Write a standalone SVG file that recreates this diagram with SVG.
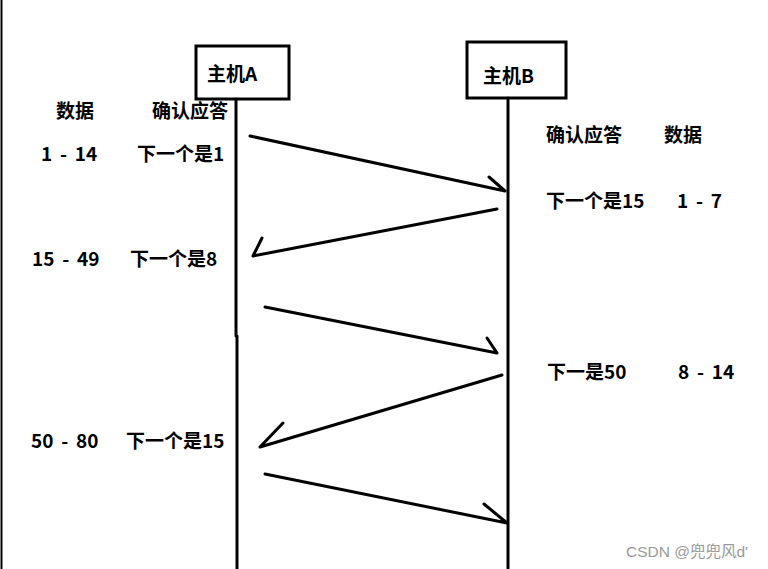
<svg xmlns="http://www.w3.org/2000/svg" width="768" height="569" viewBox="0 0 768 569">
<style>
.t{font-family:"Noto Sans CJK SC","Liberation Sans",sans-serif;font-weight:bold;font-size:19px;fill:#000;word-spacing:3.5px}
.box{fill:#fff;stroke:#000;stroke-width:3}
.ln{stroke:#000;stroke-width:3;fill:none;stroke-linecap:round;stroke-linejoin:round}
.wm{font-family:"Liberation Sans","Noto Sans CJK SC",sans-serif;font-size:15.5px;fill:#999}
</style>
<rect width="768" height="569" fill="#fff"/>
<line x1="1.5" y1="0" x2="1.5" y2="569" stroke="#000" stroke-width="2"/>
<g id="hostA">
<rect class="box" x="196" y="46" width="93" height="53"/>
<text class="t" x="207" y="81">主机A</text>
<path class="ln" d="M236 99V336M237 336V569" stroke-linecap="butt"/>
</g>
<g id="hostB">
<rect class="box" x="467" y="42" width="99" height="56"/>
<text class="t" x="483" y="83">主机B</text>
<path class="ln" d="M508 98V569" stroke-linecap="butt"/>
</g>
<g id="labels">
<text class="t" x="56" y="118">数据</text>
<text class="t" x="152" y="118">确认应答</text>
<text class="t" x="41" y="161">1 - 14</text>
<text class="t" x="137" y="161">下一个是1</text>
<text class="t" x="546" y="142">确认应答</text>
<text class="t" x="664" y="142">数据</text>
<text class="t" x="546" y="208">下一个是15</text>
<text class="t" x="677" y="208">1 - 7</text>
<text class="t" x="32" y="266">15 - 49</text>
<text class="t" x="130" y="266">下一个是8</text>
<text class="t" x="547" y="379">下一是50</text>
<text class="t" x="678" y="379">8 - 14</text>
<text class="t" x="31" y="448">50 - 80</text>
<text class="t" x="126" y="448">下一个是15</text>
</g>
<g id="connectors">
<path class="ln" d="M250 136L505 191M489 177L505 191"/>
<path class="ln" d="M497 209L253 256M262 238L253 256"/>
<path class="ln" d="M265 307L497 353M487 338L497 353"/>
<path class="ln" d="M502 375L260 447M283 423L260 447"/>
<path class="ln" d="M265 474L507 523M484 504L507 523"/>
</g>
<text class="wm" x="626" y="557">CSDN @兜兜风d'</text>
</svg>
